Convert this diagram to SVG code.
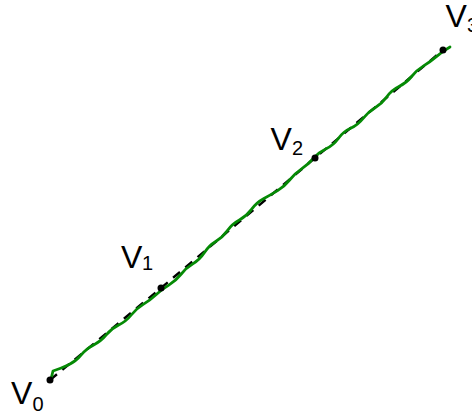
<svg xmlns="http://www.w3.org/2000/svg" width="472" height="414" viewBox="0 0 472 414">
<style>
.lbl{font-family:"Liberation Sans",Arial,sans-serif;font-size:32px;fill:#000}
.sub{font-family:"Liberation Sans",Arial,sans-serif;font-size:20px;fill:#000}
.dash{fill:none;stroke:#000;stroke-width:2.4;stroke-dasharray:9 7}
.wig{fill:none;stroke:#058a05;stroke-width:2.8;stroke-linecap:round;stroke-linejoin:round}
.dot{fill:#000}
</style>
<rect width="472" height="414" fill="#fff"/>
<g id="connectors">
<polyline class="dash" points="50,380 161,288 315,158 443,50"/>
<path class="wig" d="M51.5,377 L53,371 Q61.3,368.4 68.7,364.8 Q76.1,361.2 81.2,354.9 Q86.3,348.5 93.7,344.9 Q101.1,341.2 106.2,334.9 Q111.3,328.6 118.7,325.0 Q126.1,321.4 131.2,315.0 Q136.3,308.6 143.2,304.4 Q150.1,300.1 156.0,294.7 Q161.9,289.3 168.8,285.1 Q175.7,280.8 180.8,274.5 Q185.8,268.1 192.8,263.9 Q199.7,259.6 204.3,252.7 Q208.8,245.7 215.7,241.5 Q222.6,237.3 227.4,230.6 Q232.2,223.9 239.4,220.0 Q246.6,216.0 251.5,209.4 Q256.3,202.7 263.5,198.8 Q270.6,194.8 277.6,190.6 Q284.5,186.3 289.6,180.0 Q294.6,173.6 301.3,169.1 Q307.9,164.5 313.3,158.5 Q318.6,152.4 326.1,148.8 Q333.5,145.2 338.3,138.5 Q343.1,131.8 350.6,128.3 Q358.0,124.7 363.1,118.3 Q368.2,111.9 375.1,107.7 Q381.9,103.5 386.8,96.8 Q391.6,90.1 399.0,86.5 Q406.4,82.9 411.6,76.5 Q416.7,70.1 423.6,65.9 Q430.4,61.7 436.7,56.4 Q443,51 450,47"/>
</g>
<g id="v0">
<circle class="dot" cx="50" cy="380" r="3.5"/>
<text class="lbl" x="11" y="404">V</text><text class="sub" x="32.5" y="411">0</text>
</g>
<g id="v1">
<circle class="dot" cx="161" cy="288" r="3.5"/>
<text class="lbl" x="121" y="268">V</text><text class="sub" x="142" y="270">1</text>
</g>
<g id="v2">
<circle class="dot" cx="315" cy="158" r="3.5"/>
<text class="lbl" x="270.5" y="150">V</text><text class="sub" x="292" y="155">2</text>
</g>
<g id="v3">
<circle class="dot" cx="443" cy="50" r="3.5"/>
<text class="lbl" x="445.5" y="27">V</text><text class="sub" x="467" y="32">3</text>
</g>
</svg>
